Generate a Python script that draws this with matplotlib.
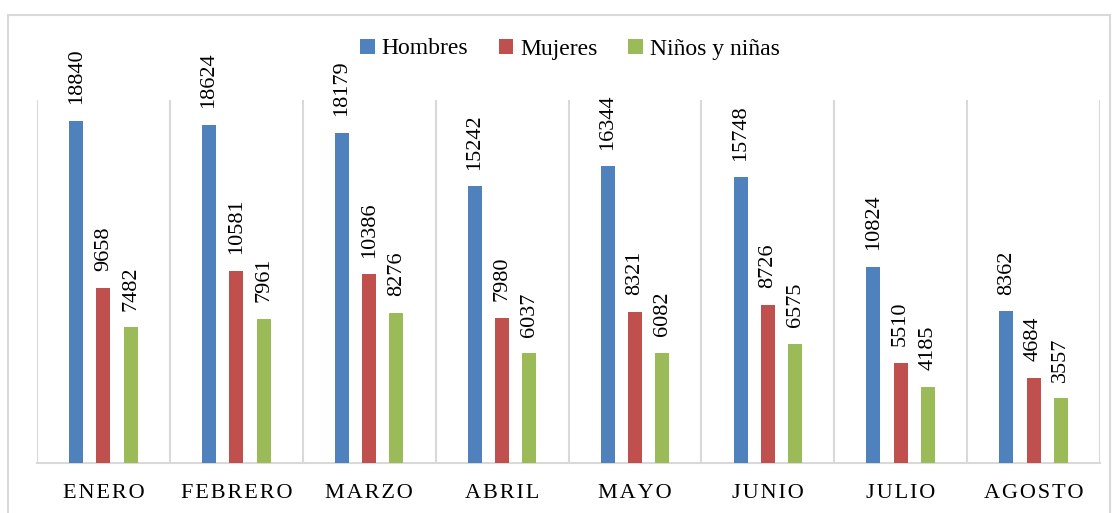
import numpy as np
import matplotlib
matplotlib.use("Agg")
from matplotlib import pyplot as plt
from matplotlib.patches import Rectangle

meses = ["ENERO", "FEBRERO", "MARZO", "ABRIL", "MAYO", "JUNIO", "JULIO", "AGOSTO"]
hombres = [18840, 18624, 18179, 15242, 16344, 15748, 10824, 8362]
mujeres = [9658, 10581, 10386, 7980, 8321, 8726, 5510, 4684]
ninos = [7482, 7961, 8276, 6037, 6082, 6575, 4185, 3557]
series = ["Hombres", "Mujeres", "Niños y niñas"]

colores = ["#4F81BD", "#C0504D", "#9BBB59"]
gris = "#D9D9D9"

plt.rcParams["font.family"] = ["Liberation Serif", "DejaVu Serif"]

fig = plt.figure(figsize=(11.15, 5.13), dpi=100)
ax = fig.add_axes([37 / 1115, 50 / 513, 1063 / 1115, 363 / 513])

# borde exterior del grafico
fig.patches.append(Rectangle((8 / 1115, -0.01), 1102 / 1115, 503 / 513,
                             transform=fig.transFigure, fill=False,
                             edgecolor=gris, linewidth=1.5))

x = np.arange(len(meses))
ancho = 0.105
paso = 0.205
for i, (vals, nombre) in enumerate(zip([hombres, mujeres, ninos], series)):
    barras = ax.bar(x + (i - 1) * paso, vals, width=ancho, color=colores[i], label=nombre, zorder=3)
    for b, v in zip(barras, vals):
        ax.annotate(str(v), (b.get_x() + b.get_width() / 2, b.get_height()),
                    xytext=(0, 12), textcoords="offset points", rotation=90,
                    ha="center", va="bottom", fontsize=16, color="#000000",
                    annotation_clip=False)

# separadores entre categorias
for s in np.arange(-0.5, len(meses), 1.0):
    ax.axvline(s, color=gris, linewidth=1.5, zorder=1)

ax.set_xlim(-0.5, len(meses) - 0.5)
ax.set_ylim(0, 20000)
ax.set_yticks([])
ax.set_xticks(x)
ax.set_xticklabels(["\u200a".join(m) for m in meses], fontsize=16)
ax.tick_params(axis="x", length=0, pad=15)
for lado in ["top", "left", "right"]:
    ax.spines[lado].set_visible(False)
ax.spines["bottom"].set_color(gris)
ax.spines["bottom"].set_linewidth(1.5)

fig.legend(loc="center", bbox_to_anchor=(570 / 1115, 1 - 49 / 513), ncol=3,
           frameon=False, fontsize=17, handlelength=0.6, handleheight=0.6,
           handletextpad=0.3, columnspacing=1.3)

fig.savefig("out.png", dpi=100)
